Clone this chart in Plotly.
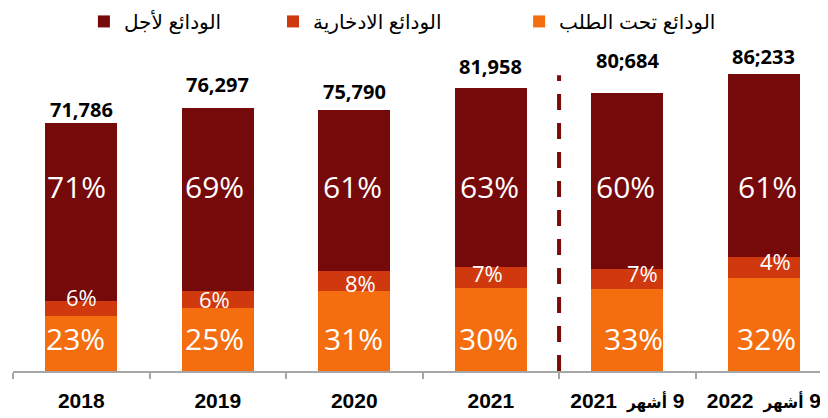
import plotly.graph_objects as go

# ---------------- data ----------------
categories = ["2018", "2019", "2020", "2021", "9 أشهر 2021", "9 أشهر 2022"]
tick_labels = ["2018", "2019", "2020", "2021",
               '\u202b9 <span style="font-size:17px">أشهر</span>\u2009 2021\u202c',
               '\u202b9 <span style="font-size:17px">أشهر</span>\u2009 2022\u202c']
demand_deposits = [15900, 18360, 23200, 23980, 23690, 27060]      # الودائع تحت الطلب
savings_deposits = [4400, 4760, 5890, 6090, 5970, 6090]            # الودائع الادخارية
term_deposits = [51486, 53177, 46700, 51888, 51024, 53083]         # الودائع لأجل
totals = [71786, 76297, 75790, 81958, 80684, 86233]
total_labels = ["71,786", "76,297", "75,790", "81,958", "80;684", "86;233"]
demand_pct = ["23%", "25%", "31%", "30%", "33%", "32%"]
savings_pct = ["6%", "6%", "8%", "7%", "7%", "4%"]
term_pct = ["71%", "69%", "61%", "63%", "60%", "61%"]
series_names = ["الودائع تحت الطلب", "الودائع الادخارية", "الودائع لأجل"]

# ---------------- style ----------------
c_orange = "#F46D0E"
c_red = "#D0380E"
c_dark = "#760A0A"
total_yshift = [14, 23, 18, 22, 32, 17]
term_xshift = [-5, -3, -2, -1, -2, 4]
demand_xshift = [-6, -3, -1, -2, 6, 3]
savings_xshift = [0, -3, 6, -3, 15, 12]
savings_yshift = [12, 0, -2, 5, 6, 6]
legend_x = [0.621, 0.319, 0.087]

fig = go.Figure()
for vals, name, col, lg in [
    (demand_deposits, series_names[0], c_orange, "legend"),
    (savings_deposits, series_names[1], c_red, "legend2"),
    (term_deposits, series_names[2], c_dark, "legend3"),
]:
    fig.add_trace(go.Bar(x=categories, y=vals, name=name, marker_color=col,
                         marker_line_width=0, legend=lg, hoverinfo="skip"))

ann = []
for i in range(len(categories)):
    ann.append(dict(x=i, y=totals[i], text=total_labels[i], showarrow=False,
                    yanchor="middle", yshift=total_yshift[i],
                    font=dict(family="Open Sans", size=20, color="#000000", weight="bold")))
    ann.append(dict(x=i, y=0.5096, yref="paper", text=term_pct[i], showarrow=False,
                    xshift=term_xshift[i], yanchor="middle",
                    font=dict(family="Open Sans", size=30, color="#ffffff")))
    ann.append(dict(x=i, y=0.0909, yref="paper", text=demand_pct[i], showarrow=False,
                    xshift=demand_xshift[i], yanchor="middle",
                    font=dict(family="Open Sans", size=30, color="#ffffff")))
    ann.append(dict(x=i, y=demand_deposits[i] + savings_deposits[i] / 2, text=savings_pct[i],
                    showarrow=False, xshift=savings_xshift[i], yshift=savings_yshift[i],
                    yanchor="middle",
                    font=dict(family="Open Sans", size=22, color="#ffffff")))

leg_font = dict(family="Liberation Sans, DejaVu Sans", size=20, color="#000000")
legend_common = dict(orientation="h", xanchor="left", yanchor="middle", y=0.963,
                     font=leg_font, bgcolor="rgba(0,0,0,0)", borderwidth=0)

# the page body adds an 8px offset, so the figure is 8px smaller and margins compensate
fig.update_layout(
    width=820, height=410,
    margin=dict(l=5, r=0, t=0, b=47, autoexpand=False),
    plot_bgcolor="#ffffff", paper_bgcolor="#ffffff",
    barmode="stack", bargap=0.473,
    showlegend=True,
    legend=dict(x=legend_x[0], **legend_common),
    legend2=dict(x=legend_x[1], **legend_common),
    legend3=dict(x=legend_x[2], **legend_common),
    xaxis=dict(range=[-0.5, 5.47], showline=True, linecolor="#A6A6A6", linewidth=2,
               ticks="outside", tickson="boundaries", ticklen=6, tickcolor="#A6A6A6",
               tickwidth=2, showgrid=False, zeroline=False, automargin=False,
               tickangle=0, tickmode="array", tickvals=categories, ticktext=tick_labels,
               tickfont=dict(family="Liberation Sans, DejaVu Sans Condensed, DejaVu Sans",
                             size=21, color="#000000", weight="bold"),
               ticklabelstandoff=10),
    yaxis=dict(range=[0, 105281], visible=False, showgrid=False, zeroline=False),
    annotations=ann,
    shapes=[dict(type="line", xref="x", yref="y", x0=3.5, x1=3.5, y0=0, y1=85800,
                 line=dict(color="#7B0A0A", width=4, dash="16px,13px"))],
)

fig.write_html("out.html")
